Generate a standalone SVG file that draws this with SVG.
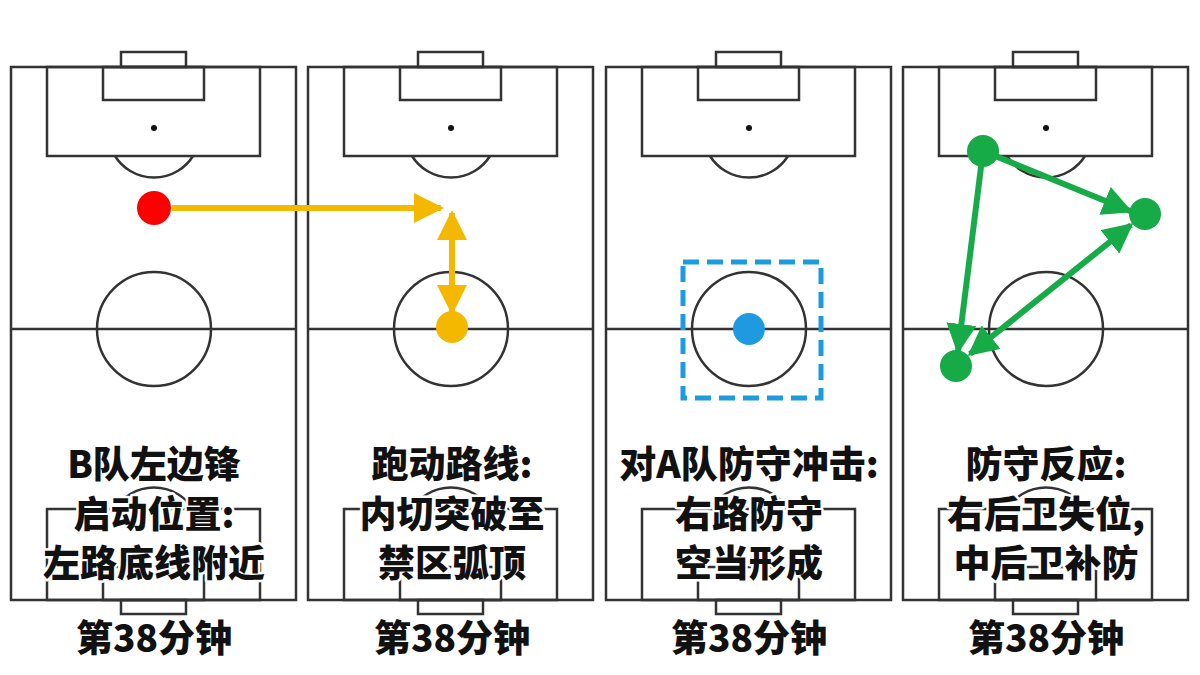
<svg xmlns="http://www.w3.org/2000/svg" width="1200" height="675" viewBox="0 0 1200 675">
<defs>
<style>
.l{fill:none;stroke:#333;stroke-width:2.5}
.t{font-family:"Noto Sans CJK SC","Liberation Sans",sans-serif;font-weight:900;font-size:37px;fill:#111;text-anchor:middle;stroke:#fff;stroke-width:5;paint-order:stroke;stroke-linejoin:round}
.o{stroke:#F5B800;stroke-width:6;fill:none}
.g{stroke:#16AB47;stroke-width:6;fill:none}
</style>
<marker id="ao" viewBox="0 0 10 10" refX="9" refY="5" markerWidth="5" markerHeight="5" orient="auto-start-reverse"><path d="M0,0L10,5L0,10z" fill="#F5B800"/></marker>
<marker id="ag" viewBox="0 0 10 10" refX="9" refY="5" markerWidth="5" markerHeight="5" orient="auto-start-reverse"><path d="M0,0L10,5L0,10z" fill="#16AB47"/></marker>
<g id="pitch">
<rect x="11" y="67" width="285" height="533" class="l"/>
<rect x="121" y="52" width="65" height="15" class="l"/>
<rect x="47" y="67" width="213" height="89" class="l"/>
<rect x="103" y="67" width="101" height="33" class="l"/>
<circle cx="154" cy="128" r="3" fill="#111"/>
<path d="M115,156A46,46 0 0 0 193,156" class="l"/>
<line x1="11" y1="329" x2="296" y2="329" class="l"/>
<circle cx="154" cy="329" r="57" class="l"/>
<rect x="47" y="509" width="213" height="91" class="l"/>
<rect x="103" y="567" width="101" height="33" class="l"/>
<rect x="121" y="600" width="65" height="14" class="l"/>
<path d="M115,509A46,46 0 0 1 193,509" class="l"/>
</g>
</defs>
<rect width="1200" height="675" fill="#fff"/>
<g id="panel1"><use href="#pitch"/></g>
<g id="panel2"><use href="#pitch" x="297"/></g>
<g id="panel3"><use href="#pitch" x="595"/></g>
<g id="panel4"><use href="#pitch" x="892"/></g>
<g id="connectors">
<line x1="172" y1="208" x2="441" y2="208" class="o" marker-end="url(#ao)"/>
<line x1="452" y1="213" x2="452" y2="312" class="o" marker-start="url(#ao)" marker-end="url(#ao)"/>
<rect x="683" y="262" width="138" height="136" fill="none" stroke="#1E9BE0" stroke-width="5" stroke-dasharray="16,8"/>
<line x1="983" y1="151" x2="1130" y2="211" class="g" marker-end="url(#ag)"/>
<line x1="970" y1="354" x2="1131" y2="225" class="g" marker-start="url(#ag)" marker-end="url(#ag)"/>
<line x1="983" y1="151" x2="958" y2="351" class="g" marker-end="url(#ag)"/>
</g>
<g id="n-red"><circle cx="154" cy="208" r="17" fill="#F00"/></g>
<g id="n-orange"><circle cx="452" cy="327" r="16" fill="#F5B800"/></g>
<g id="n-blue"><circle cx="749" cy="329" r="16" fill="#1E9BE0"/></g>
<g id="n-g1"><circle cx="983" cy="151" r="16" fill="#16AB47"/></g>
<g id="n-g2"><circle cx="1145" cy="214" r="16" fill="#16AB47"/></g>
<g id="n-g3"><circle cx="956" cy="366" r="16" fill="#16AB47"/></g>
<g id="labels">
<text class="t" x="154" y="478">B队左边锋</text>
<text class="t" x="154" y="528">启动位置:</text>
<text class="t" x="154" y="577">左路底线附近</text>
<text class="t" x="452" y="478">跑动路线:</text>
<text class="t" x="452" y="528">内切突破至</text>
<text class="t" x="452" y="577">禁区弧顶</text>
<text class="t" x="749" y="478">对A队防守冲击:</text>
<text class="t" x="749" y="528">右路防守</text>
<text class="t" x="749" y="577">空当形成</text>
<text class="t" x="1046" y="478">防守反应:</text>
<text class="t" x="1046" y="528">右后卫失位,</text>
<text class="t" x="1046" y="577">中后卫补防</text>
<text class="t" x="154" y="652">第38分钟</text>
<text class="t" x="452" y="652">第38分钟</text>
<text class="t" x="749" y="652">第38分钟</text>
<text class="t" x="1046" y="652">第38分钟</text>
</g>
</svg>
